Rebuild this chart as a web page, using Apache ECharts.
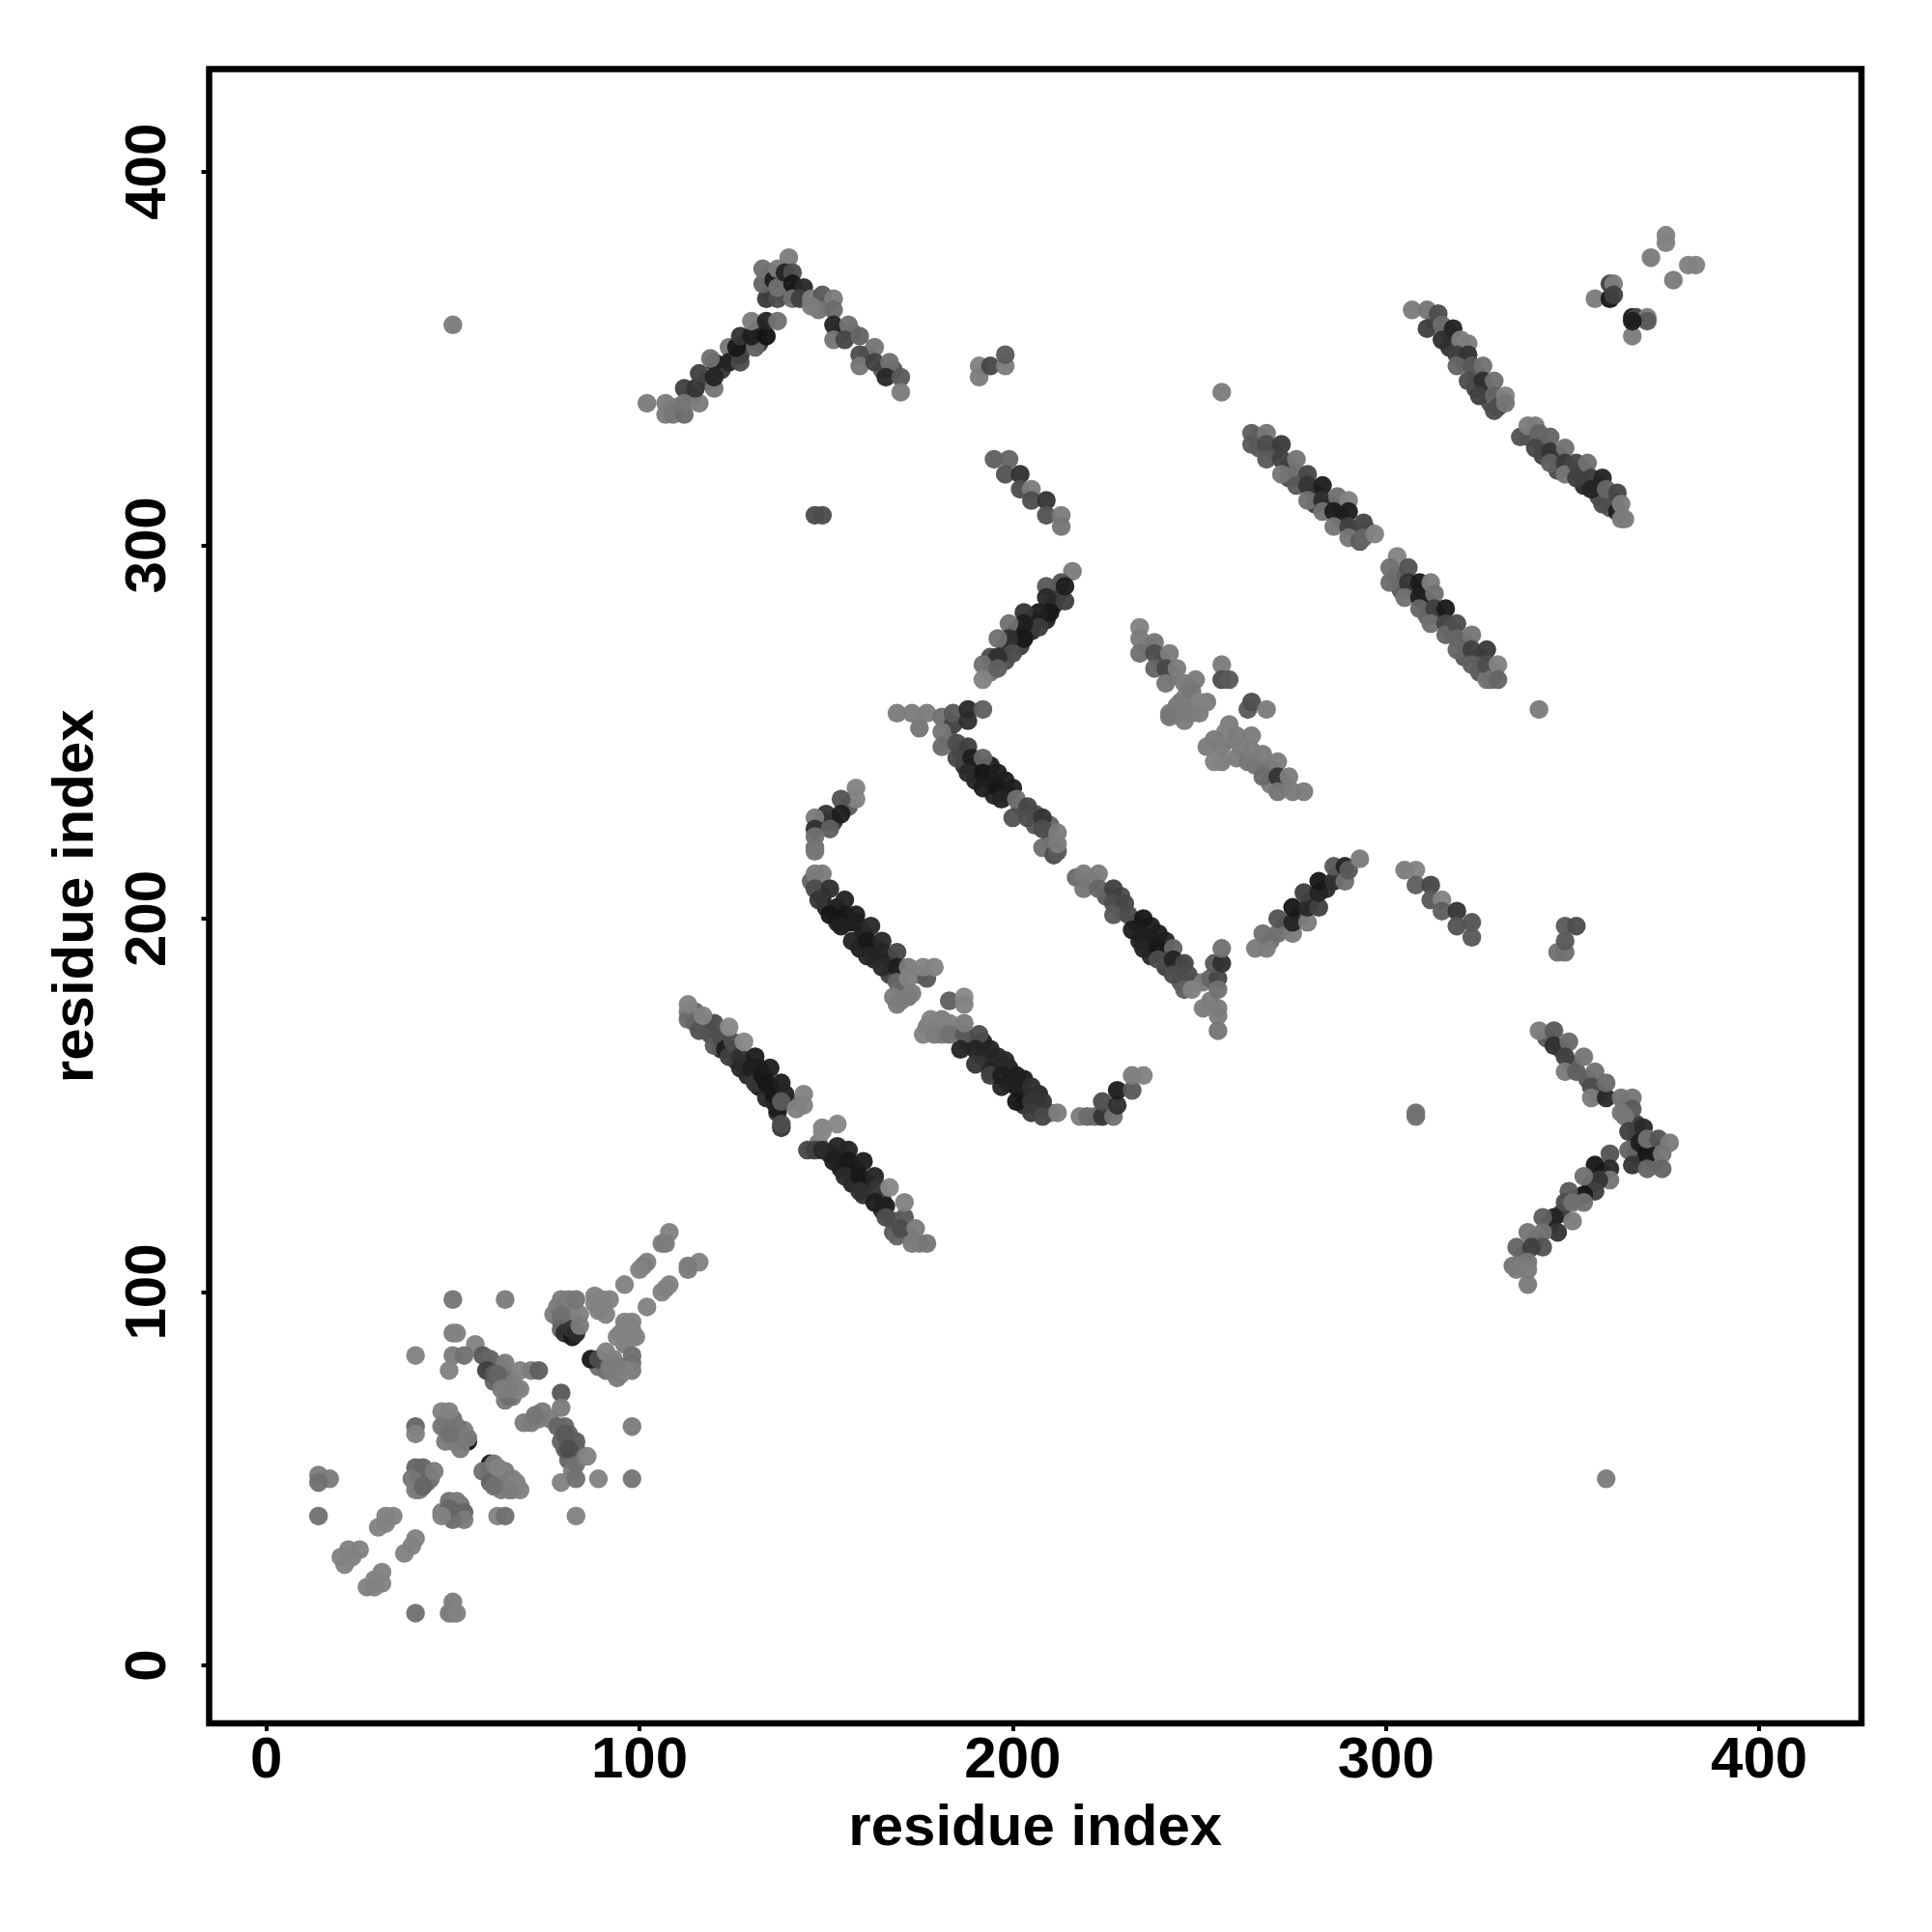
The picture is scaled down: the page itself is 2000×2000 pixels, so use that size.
<!DOCTYPE html>
<html><head><meta charset="utf-8">
<style>html,body{margin:0;padding:0;background:#fff}#c{width:2000px;height:2000px}</style>
<script src="https://cdn.jsdelivr.net/npm/echarts@6/dist/echarts.min.js"></script>
</head><body><div id="c"></div>
<script>
// each entry: [residue x, residue y, contact strength 0..1]
const tickValues=[0,100,200,300,400];
const underLow=[[60,80,.4],[62,80,.4],[61,76,.3],[63,76,.3],[64,78,.3],[66,76,.1],[63,79,.2],[66,72,.1],[68,74,.05],[48,66,.2],[50,66,.2],[49,64,.3],[51,62,.3],[52,60,.3],[50,60,.2],[53,63,.1],[41,51,.3],[43,51,.3],[41,49,.3],[43,49,.2],[44,50,.2],[41,47,.1],[60,51,.3],[62,51,.2],[62,49,.2],[64,49,.1],[66,50,.05],[66,47,.05],[63,47,.1],[49,44,.2],[52,43,.2],[48,41,.2],[51,41,.3],[52,40,.3],[49,40,.3],[79,96,.1],[81,96,.1],[80,92,.2],[82,94,.1],[78,96,.1],[84,94,.05],[90,96,.05],[91,94,.05],[96,86,.1],[94,88,.05],[96,92,.05],[89,80,.2],[91,79,.2],[93,82,.1],[95,78,.1],[96,80,.1],[98,81,.15],[81,62,.3],[81,55,.3],[82,52,.1],[83,58,.2],[80,58,.4],[79,60,.3],[73,66,.1],[76,66,.1],[69,65,.1]];
const underA=[[115,175,.3],[118,172,.4],[119,169,.5],[121,168,.5],[122,165,.7],[125,165,.8],[126,162,.9],[128,161,.9],[129,158,.8],[132,160,.95],[132,155,.9],[135,155,.95],[136,151,.85],[140,151,.3],[137,148,.7]];
const underB=[[148,140,.1],[151,137,.9],[154,136,.9],[154,133,.9],[158,133,.95],[157,129,.85],[161,129,.9],[160,126,.7],[165,125,.6],[165,122,.8],[168,119,.5],[168,116,.4],[172,115,.2],[169,115,.3]];
const underC=[[149,226,.6],[152,226,.7],[156,230,.4]];
const underD=[[146,210,.3],[149,206,.7],[153,203,.9],[150,203,.85],[156,199,.9],[153,199,.85],[160,196,.9],[159,192,.9],[163,192,.9],[163,189,.8],[167,189,.85],[167,185,.6],[170,185,.2],[171,181,.1],[175,185,.2]];
const underE=[[181,173,.1],[185,170,.1],[177,171,.1],[188,167,.8],[192,167,.85],[192,163,.8],[196,163,.8],[195,161,.8],[199,160,.85],[199,156,.9],[203,157,.9],[203,153,.9],[207,153,.8],[203,150,.8],[207,149,.65],[210,148,.2]];
const underG=[[212,287,.7],[211,284,.8],[205,280,.9],[209,280,.85],[201,277,.9],[205,277,.8],[198,273,.7],[202,273,.6],[194,270,.5],[198,269,.5],[194,266,.2]];
const underH=[[183,248,.2],[186,245,.6],[187,241,.7],[190,241,.9],[194,241,.9],[190,237,.85],[194,237,.95],[198,237,.9],[195,233,.85],[199,233,.9],[202,230,.5],[206,228,.5],[206,225,.4],[210,221,.2],[210,225,.3]];
const underI=[[221,210,.1],[225,206,.4],[229,206,.5],[229,202,.5],[233,199,.8],[237,198,.9],[234,194,.85],[237,194,.9],[241,194,.85],[237,190,.8],[241,190,.9],[245,187,.5],[241,187,.6],[245,183,.4],[249,183,.3]];
const underK=[[273,198,.4],[277,201,.7],[280,205,.8],[284,208,.8],[287,212,.6],[269,194,.2]];
const underL=[[236,273,.2],[240,269,.3],[243,265,.2],[246,263,.1],[247,262,.1],[246,259,.1],[244,257,.1],[250,255,.1],[245,258,.1],[248,258,.1],[244,255,.1],[256,246,.1],[258,248,.1],[261,246,.1],[260,243,.1],[265,241,.2],[269,240,.2],[269,236,.1],[273,236,.1]];
const underM=[[110,337,.1],[114,340,.5],[118,344,.6],[122,347,.7],[125,350,.8],[128,354,.85],[132,358,.8],[132,354,.7],[135,367,.4],[139,367,.6],[142,368,.7],[135,373,.3],[150,364,.2],[154,357,.4],[157,357,.3],[161,351,.4],[165,347,.4],[168,347,.4]];
const underN=[[266,329,.3],[266,326,.4],[270,325,.5],[274,321,.5],[274,318,.5],[278,317,.6],[281,314,.8],[281,311,.6],[285,311,.85],[288,307,.8],[288,310,.85],[292,304,.4],[295,304,.2]];
const underO=[[303,292,.4],[304,288,.4],[308,288,.85],[311,285,.7],[311,281,.3],[314,281,.6],[318,277,.5],[321,274,.5],[321,270,.4],[325,270,.5],[325,266,.4],[329,266,.3]];
const underP=[[313,360,.6],[317,357,.7],[317,353,.7],[321,352,.6],[321,349,.5],[324,346,.5],[327,342,.5],[324,342,.6],[328,338,.5],[331,339,.2]];
const underS=[[338,329,.4],[342,327,.5],[342,324,.6],[346,324,.6],[346,320,.5],[350,320,.55],[353,320,.5],[353,316,.8],[357,316,.8],[357,313,.5],[361,312,.7],[360,310,.4]];
const underV=[[343,168,.4],[347,165,.6],[350,161,.4],[354,157,.4],[357,153,.6],[364,150,.2],[367,145,.7],[367,141,.6],[367,137,.7],[371,139,.8],[372,135,.3]];
const underW=[[358,132,.8],[355,129,.8],[351,125,.7],[347,121,.7],[344,118,.7],[340,114,.5],[337,110,.3],[336,108,.1]];
const isolated=[[50,359,.1],[256,341,.1],[308,148,.2],[308,147,.2],[359,50,.1],[341,256,.1],[147,308,.5],[149,308,.5]];
const lowerDiag=[[108,116,.05],[106,113,.1],[107,113,.1],[102,108,.05],[101,107,.1],[100,106,.05],[96,102,.05],[116,108,.05],[113,107,.1],[113,106,.1],[108,102,.05],[107,101,.05],[106,100,.05],[102,96,.05],
[98,92,.05],[97,91,.05],[95,89,.05],[96,90,.05],[97,88,.05],[98,90,.05],[98,88,.05],[99,88,.05],
[50,98,.15],[64,98,.1],[40,83,.05],[50,89,.1],[51,89,.05],
[79,98,.1],[81,98,.1],[83,98,.15],[77,94,.1],[79,94,.2],[79,92,.2],[79,90,.3],[80,89,.75],[82,88,.95],[82,90,.7],[83,89,.8],[84,91,.1],[88,99,.05],[92,98,.05],[89,95,.05],[88,97,.05],[90,98,.05],
[87,82,.95],[89,82,.5],[91,84,.05],[98,83,.2],[98,79,.1],[94,77,.1],[96,79,.05],[92,80,.1],[94,80,.1],
[98,64,.1],[98,50,.15],[89,50,.05],[83,40,.05],[79,49,.05],[83,50,.2],[83,54,.2],[86,56,.05],[83,60,.35],[80,64,.3],[79,73,.4],[79,69,.1],[71,65,.1],[74,68,.1],[72,67,.15],[78,64,.3],[80,62,.4],[81,58,.5],
[56,86,.05],[50,83,.1],[49,79,.05],[53,83,.2],[58,83,.4],[60,82,.3],[64,81,.1],[68,79,.05],[71,79,.1],[73,79,.35],[59,79,.6],[61,78,.4],[62,78,.3],[64,71,.1],[65,72,.2],[67,74,.05],[65,74,.1],[63,74,.1],
[47,68,.05],[49,68,.05],[47,64,.15],[51,64,.15],[54,60,1],[54,61,.1],[48,60,.1],[52,58,.1],[49,62,.2],[40,64,.3],[40,62,.05],
[40,53,.3],[42,53,.3],[45,52,.1],[39,50,.15],[40,47,.1],[42,48,.3],[14,51,.1],[17,50,.1],[14,49,.2],[14,40,.2],
[60,54,1],[58,52,.2],[61,54,.1],[60,49,.3],[64,52,.1],[67,49,.05],[68,47,.05],[65,47,.1],[61,48,.2],[62,53,.05],
[51,44,.1],[47,41,.1],[53,41,.3],[53,39,.1],[50,39,.2],[49,42,.3],[62,40,.05],[64,40,.2],[47,40,.05],
[34,40,.05],[32,40,.05],[30,37,.05],[32,38,.05],[40,34,.05],[37,30,.05],[39,32,.05],[25,31,.05],[22,31,.05],[21,27,.05],[20,29,.05],[23,29,.05],[31,25,.05],[29,23,.05],[27,21,.05],[31,22,.05],[29,21,.05],
[40,14,.2],[50,17,.1],[49,14,.1],[50,14,.1],[51,14,.05]];
const helixA=[[113,175,.1],[113,173,.25],[115,172,.3],[116,170,.45],[120,172,.5],[120,166,.4],[122,168,.5],[123,165,.9],[124,163,.6],[125,167,.5],[127,163,.75],[127,160,.8],[130,160,.9],[131,156,.7],[131,163,.9],[133,158,.95],[135,160,.9],[134,152,.8],[134,156,.95],[136,153,.95],[138,156,.9],[139,153,.85],[137,149,.9],[138,151,.4],[138,144,.7],[138,145,.5],[113,177,.05],[117,174,.05],[124,171,0],[128,167,0],[144,153,.05],[142,149,.05],[144,150,.05]];
const helixB=[[145,138,.55],[147,138,.6],[149,138,.8],[153,139,.85],[156,138,.85],[152,135,.9],[156,135,.95],[160,135,.9],[155,131,.8],[159,131,.95],[163,131,.85],[159,127,.75],[164,128,.7],[163,124,.9],[166,123,.9],[166,120,.5],[171,120,.4],[170,117,.5],[149,144,.05],[149,143,0],[153,145,0],[167,128,0],[171,124,.05],[174,117,.1],[173,113,.1],[175,113,.1],[177,113,.15]];
const helixC=[[158,235,.05],[158,232,.05],[154,232,.45],[150,228,.7],[154,228,.9],[147,227,.1],[147,224,.75],[151,224,.35],[147,222,.2],[147,219,.2],[147,218,.15]];
const helixD=[[147,212,.1],[149,212,.1],[147,208,.5],[151,208,.75],[148,205,.7],[155,205,.85],[151,201,.95],[155,201,.95],[158,201,.9],[154,198,.9],[158,199,.9],[162,198,.8],[157,194,.85],[161,194,.95],[165,194,.8],[161,190,.85],[165,191,.85],[169,191,.55],[165,187,.8],[169,187,.9],[172,187,.1],[169,183,.3],[172,184,.05],[177,184,.4],[176,187,.05],[179,187,.05],[169,177,.1],[172,179,.15],[170,178,.1],[173,180,.1],[168,179,.1]];
const helixE=[[183,178,.35],[187,179,0],[187,177,.05],[178,173,.05],[176,169,.05],[179,169,.1],[181,169,.1],[183,172,.05],[183,169,.2],[187,169,.4],[191,169,.5],[186,165,.85],[187,172,.1],[190,165,.85],[194,165,.85],[190,161,.7],[194,159,.85],[198,162,.8],[194,158,.6],[197,155,.85],[197,158,.9],[201,158,.9],[201,155,.9],[205,155,.75],[201,151,.95],[205,151,.7],[208,151,.7],[205,148,.65],[208,147,.55],[212,148,.1]];
const helixF=[[218,147,.1],[220,147,.25],[222,147,.25],[224,147,.7],[227,147,.2],[224,151,.5],[228,150,.75],[228,154,.9],[232,154,.4],[232,158,.1],[235,158,.05]];
const helixG=[[216,293,.1],[213,290,.45],[214,285,.6],[214,289,.9],[209,289,.4],[209,286,.8],[210,282,.95],[207,282,.9],[203,282,.7],[207,278,.65],[203,279,.9],[199,279,.2],[203,275,.95],[199,275,.75],[196,275,.2],[200,271,.5],[196,270,.75],[192,268,.2],[196,267,.35],[192,264,.05]];
const helixH=[[169,255,.1],[173,255,.1],[177,255,.1],[175,251,.15],[181,254,.2],[184,252,.6],[184,255,.4],[188,253,.75],[188,256,.8],[192,256,.35],[181,250,.15],[181,246,.25],[185,247,.5],[188,246,.6],[185,243,.55],[189,243,.9],[192,243,.3],[188,239,.8],[192,239,.95],[196,239,.9],[192,235,.9],[196,235,.95],[200,235,.9],[197,232,.85],[201,232,.2],[204,230,.55],[200,227,.45],[204,227,.5],[208,227,.7],[208,224,.5],[212,223,.1],[208,219,.2],[211,217,.5],[212,218,.4],[212,220,.1]];
const helixI=[[217,211,.25],[219,212,.1],[223,212,.1],[219,208,.15],[223,208,.3],[227,208,.6],[227,204,.5],[230,204,.55],[227,201,.4],[231,201,.5],[232,197,.9],[235,200,.95],[239,196,.9],[235,195,.9],[235,192,.85],[239,192,.95],[243,192,.3],[239,189,.5],[243,189,.85],[246,188,.55],[243,185,.5],[247,185,.5],[246,181,.35]];
const helixJ=[[253,178,.1],[251,176,.1],[255,176,.1],[255,174,.1],[255,170,.15],[251,183,.1],[248,181,.05],[253,184,.3],[255,184,.55],[255,181,.2],[254,188,.4],[256,188,.75],[256,192,.2]];
const helixK=[[265,192,.1],[268,192,.1],[267,196,.2],[271,196,.2],[271,200,.45],[275,196,.1],[275,199,.85],[279,199,.1],[275,203,.95],[279,203,.8],[282,203,.6],[278,207,.6],[282,207,.85],[282,210,.95],[286,210,.75],[286,214,.4],[289,214,.85],[289,210,.2],[290,213,.4],[293,216,.1]];
const clusterQ=[[305,213,.1],[308,213,.05],[308,209,.35],[312,209,.55],[312,205,.4],[315,205,.05],[315,202,.35],[319,202,.7],[319,198,.45],[323,199,.45],[323,195,.4]];
const helixL=[[234,278,.05],[234,275,.1],[234,271,.2],[238,274,.15],[238,271,.5],[238,267,.3],[242,271,.1],[241,267,.55],[241,263,.15],[244,267,.1],[249,264,.1],[248,261,.15],[242,255,.1],[242,254,.15],[252,258,.1],[250,258,.05],[246,256,.1],[246,253,.1],[248,255,.1],[256,268,.1],[256,264,.5],[258,264,.4],[263,256,.4],[264,258,.5],[268,256,.1],
[258,252,.1],[257,250,.05],[254,248,.1],[252,246,.1],[256,242,.1],[254,242,.05],[260,249,.1],[264,249,.1],[263,242,.15],[264,245,.1],[267,244,.1],[267,238,.25],[271,242,.1],[271,238,.7],[274,238,.1],[271,234,.15],[275,234,.1],[278,234,.1]];
const helixM=[[102,338,.1],[107,338,.1],[107,335,.1],[109,335,.15],[112,335,.25],[112,342,.6],[112,338,.15],[116,338,.1],[115,342,.7],[116,346,.6],[120,342,.15],[120,345,.85],[120,349,.85],[119,350,.2],[124,353,.15],[124,349,.85],[127,349,.5],[127,351,.6],[126,353,.95],[127,356,.7],[131,353,.3],[130,356,.9],[134,356,.98],[130,360,.1],[134,360,.85],[137,360,.2]];
const clusterTop=[[134,366,.65],[133,370,.3],[133,374,.2],[137,366,.5],[136,371,.9],[137,369,.2],[137,374,.1],[140,377,.1],[139,373,.85],[141,373,.5],[141,370,.95],[141,366,.2],[144,369,.8],[143,366,.6],[146,366,.1],[149,367,.4],[152,366,.1],[148,363,.15],[152,363,.25],[146,364,.1],
[152,359,.85],[156,359,.2],[152,355,.15],[155,355,.55],[159,356,.3],[163,353,.15],[159,351,.5],[159,348,.15],[163,349,.6],[167,349,.2],[166,345,.8],[170,345,.4],[170,341,.1]];
const clusterR=[[191,348,.05],[191,345,.1],[194,348,.55],[198,348,.1],[198,351,.4],[195,323,.35],[199,323,.3],[198,319,.45],[202,319,.75],[202,315,.5],[205,315,.1],[205,312,.5],[209,312,.7],[209,308,.45],[213,308,.1],[213,305,.15]];
const helixN=[[264,330,.35],[268,330,.15],[264,327,.4],[268,327,.5],[268,323,.4],[272,327,.65],[272,323,.6],[276,323,.15],[272,319,.15],[276,319,.2],[276,316,.4],[279,319,.55],[279,316,.7],[279,312,.2],[283,316,.9],[283,312,.75],[283,309,.2],[287,313,.2],[290,312,.05],[286,309,.9],[290,309,.9],[286,305,.15],[290,305,.6],[290,302,.15],[294,306,.55],[293,301,.4],[294,302,.3],[297,303,.05]];
const helixO=[[303,297,.05],[301,294,.2],[301,290,.25],[306,294,.45],[306,290,.7],[309,290,.92],[305,286,.2],[309,286,.88],[309,283,.3],[312,290,.1],[313,287,.2],[313,283,.6],[312,279,.2],[316,283,.92],[316,279,.55],[316,276,.3],[319,279,.5],[319,275,.3],[319,272,.3],[323,276,.15],[323,272,.6],[323,268,.35],[327,272,.65],[327,264,.15],[327,268,.5],[328,264,.2],[330,268,.05],[330,264,.3]];
const helixP=[[307,363,.1],[311,363,.15],[311,358,.6],[314,362,.5],[315,359,.25],[315,355,.75],[318,358,.85],[320,355,.1],[322,354,.1],[319,351,.6],[322,351,.7],[319,348,.3],[323,348,.4],[322,344,.5],[326,348,.2],[326,344,.75],[325,340,.6],[329,344,.2],[329,340,.3],[329,336,.5],[330,337,.5],[332,340,.05],[332,338,.15]];
const helixS=[[336,329,.45],[338,332,.1],[340,332,.1],[341,330,.3],[340,326,.55],[344,329,.3],[344,325,.7],[344,322,.35],[348,326,.2],[348,322,.65],[348,319,.15],[351,322,.55],[351,318,.6],[354,322,.2],[355,318,.6],[355,315,.85],[358,318,.85],[358,311,.5],[359,315,.3],[362,314,.55],[362,309,.9],[363,311,.1],[363,307,.1],[364,307,.1]];
const clusterU=[[375,383,.05],[375,381,.05],[371,377,.1],[381,375,.05],[383,375,.05],[377,371,.1],[360,370,.6],[361,370,.1],[356,366,.1],[360,366,.95],[361,367,.6],[366,361,.9],[367,361,.55],[370,361,.1],[370,360,.4],[366,356,.1],[366,360,.9]];
const helixV=[[341,170,.1],[345,170,.4],[345,166,.75],[349,167,.25],[348,163,.6],[348,159,.1],[351,159,.35],[353,163,.15],[356,159,.2],[355,155,.5],[355,152,.1],[359,152,.8],[359,156,.25],[363,152,.15],[366,152,.15],[366,149,.4],[363,148,.15],[364,147,.15],[365,143,.6],[369,144,.8],[365,138,.3],[366,134,.7],[368,140,.9],[370,137,.95],[370,141,.2],[373,141,.45],[376,140,.1],[374,137,.15],[370,133,.3],[374,133,.3]];
const helixW=[[360,137,.45],[360,133,.8],[360,130,.15],[356,134,.95],[357,130,.7],[353,131,.2],[356,127,.6],[353,126,.95],[349,127,.4],[348,124,.5],[350,124,.2],[353,124,.2],[350,119,.1],[345,120,.85],[342,120,.35],[346,116,.7],[342,116,.2],[342,112,.45],[338,116,.15],[335,112,.3],[339,112,.6],[338,108,.15],[334,107,.15],[335,106,.1],[338,106,.1],[338,102,.1],[348,198,.4],[351,198,.5],[346,191,.2],[348,191,.2],[348,194,.4]];

const points=[].concat(underLow,underA,underB,underC,underD,underE,underG,underH,underI,underK,underL,underM,underN,underO,underP,underS,underV,underW,isolated,lowerDiag,helixA,helixB,helixC,helixD,helixE,helixF,helixG,helixH,helixI,helixJ,helixK,clusterQ,helixL,helixM,clusterTop,clusterR,helixN,helixO,helixP,helixS,clusterU,helixV,helixW);

const axisFont={fontFamily:'"Liberation Sans"',fontWeight:'bold',fontSize:60,color:'#000'};
const chart=echarts.init(document.getElementById('c'),null,{renderer:'canvas'});
chart.setOption({
  animation:false,
  backgroundColor:'#fff',
  grid:{left:216.5,top:71.5,width:1710.5,height:1712.5,show:true,borderWidth:6.5,borderColor:'#000',backgroundColor:'#fff',z:0},
  xAxis:{type:'value',min:-15.3,max:427.4,name:'residue index',nameLocation:'middle',nameGap:79,
    nameTextStyle:axisFont,splitLine:{show:false},axisLine:{show:false,onZero:false},
    axisTick:{show:true,length:8,lineStyle:{width:4,color:'#000'},customValues:tickValues},
    axisLabel:Object.assign({margin:9,customValues:tickValues},axisFont)},
  yAxis:{type:'value',min:-15.5,max:427.5,name:'residue index',nameLocation:'middle',nameGap:107,
    nameTextStyle:axisFont,splitLine:{show:false},axisLine:{show:false,onZero:false},
    axisTick:{show:true,length:8,lineStyle:{width:4,color:'#000'},customValues:tickValues},
    axisLabel:Object.assign({margin:32,rotate:90,customValues:tickValues,align:'center',verticalAlign:'bottom'},axisFont)},
  series:[{type:'scatter',data:points,symbolSize:19.5,clip:false,
    itemStyle:{opacity:.96,color:function(p){const g=Math.round(136-118*p.value[2]);return 'rgb('+g+','+g+','+g+')';}}}]
});
</script></body></html>
